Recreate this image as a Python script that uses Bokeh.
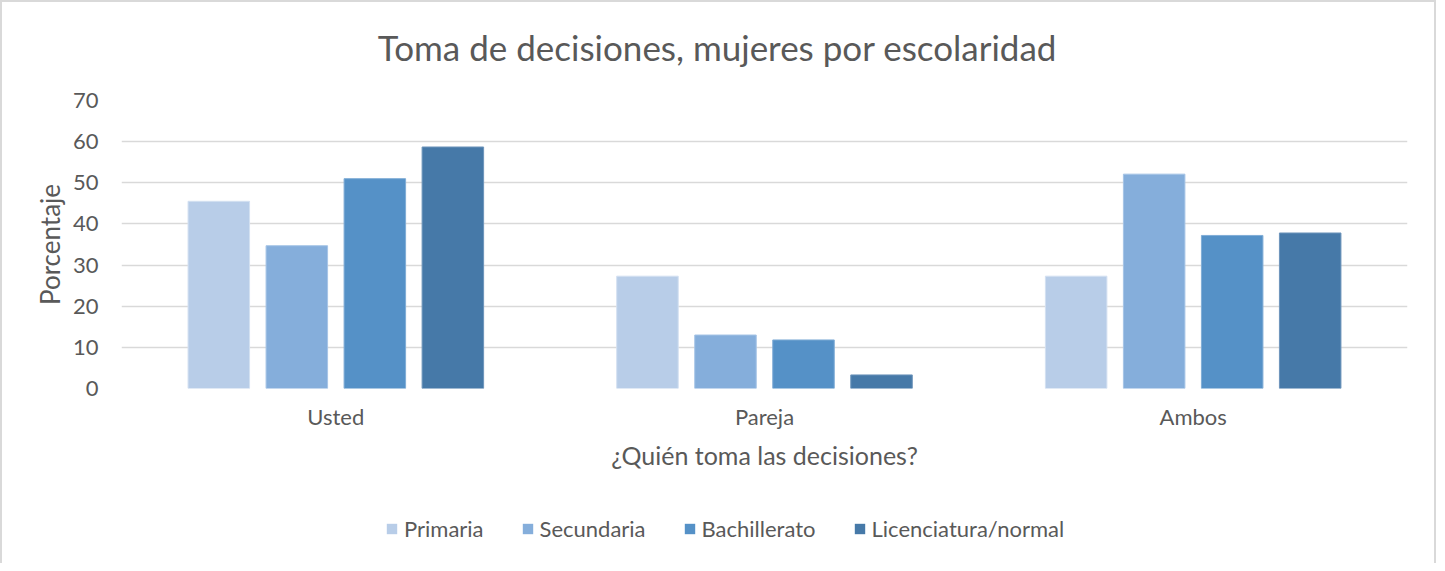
from bokeh.plotting import figure
from bokeh.models import (ColumnDataSource, FactorRange, Range1d, Legend, LegendItem, Label)
from bokeh.layouts import column
from bokeh.transform import dodge
from bokeh.embed import file_html
from bokeh.resources import INLINE

categories = ["Usted", "Pareja", "Ambos"]
series = ["Primaria", "Secundaria", "Bachillerato", "Licenciatura/normal"]
primaria = [45.5, 27.3, 27.3]
secundaria = [34.7, 13.0, 52.1]
bachillerato = [51.0, 11.8, 37.2]
licenciatura = [58.7, 3.3, 37.8]
colors = ["#B8CDE8", "#85AEDB", "#5591C7", "#4679A8"]
edge_colors = ["#D3E0F1", "#A6C4E6", "#80ADD6", "#6E95BB"]
y_ticks = [0, 10, 20, 30, 40, 50, 60, 70]
title_text = "Toma de decisiones, mujeres por escolaridad"

FONT = "Lato"
TXT = "#595959"

source = ColumnDataSource(data=dict(
    cat=categories, s0=primaria, s1=secundaria, s2=bachillerato, s3=licenciatura))
keys = ["s0", "s1", "s2", "s3"]
offsets = [-0.273, -0.091, 0.091, 0.273]

W = 1432


def strip(height):
    f = figure(x_range=FactorRange(*categories, range_padding=0), y_range=Range1d(-100, -90),
               width=W, height=height, output_backend="svg", toolbar_location=None,
               x_axis_location=None, y_axis_location=None,
               min_border_left=0, min_border_right=0, min_border_top=0, min_border_bottom=0)
    f.grid.visible = False
    f.outline_line_color = None
    f.background_fill_color = "white"
    f.border_fill_color = "white"
    return f


# title strip
tf = strip(70)
tf.add_layout(Label(x=596, y=26, x_units="screen", y_units="screen", text=title_text,
                    text_font=FONT, text_font_size="35px", text_color=TXT,
                    text_align="center", text_baseline="middle"))

# main chart
p = figure(x_range=FactorRange(*categories, range_padding=0), y_range=Range1d(0, 70),
           width=W, height=420, output_backend="svg", toolbar_location=None,
           min_border_left=119, min_border_right=27, min_border_top=28, min_border_bottom=104)

for i, key in enumerate(keys):
    p.vbar(x=dodge("cat", offsets[i], range=p.x_range), top=key, width=0.1435,
           source=source, fill_color=colors[i], line_color=edge_colors[i], line_width=1)

p.xgrid.grid_line_color = None
p.ygrid.grid_line_color = "#D9D9D9"
p.ygrid.grid_line_width = 1.5
p.yaxis.ticker = y_ticks
p.outline_line_color = None
p.background_fill_color = "white"
p.border_fill_color = "white"

for ax in (p.xaxis[0], p.yaxis[0]):
    ax.axis_line_color = None
    ax.major_tick_line_color = None
    ax.minor_tick_line_color = None
    ax.major_label_text_color = TXT
    ax.major_label_text_font = FONT
    ax.axis_label_text_color = TXT
    ax.axis_label_text_font = FONT
    ax.axis_label_text_font_style = "normal"

p.yaxis.major_label_text_font_size = "22px"
p.yaxis.major_label_standoff = 17
p.yaxis.axis_label = "Porcentaje"
p.yaxis.axis_label_text_font_size = "26px"
p.yaxis.axis_label_standoff = 4

p.xaxis.major_label_text_font_size = "22px"
p.xaxis.major_label_standoff = 8
p.xaxis.axis_label = "¿Quién toma las decisiones?"
p.xaxis.axis_label_text_font_size = "25px"
p.xaxis.axis_label_standoff = 7

# legend strip (same data source; its bars are hidden, only the legend shows)
lf = strip(71)
leg_renderers = []
for i, key in enumerate(keys):
    r = lf.vbar(x=dodge("cat", offsets[i], range=lf.x_range), top=key, width=0.1435,
                source=source, fill_color=colors[i], line_color=None, visible=False)
    leg_renderers.append(r)

legend = Legend(items=[LegendItem(label=s, renderers=[leg_renderers[i]]) for i, s in enumerate(series)],
                orientation="horizontal", location=(264, 21),
                label_text_font=FONT, label_text_font_size="22px", label_text_color=TXT,
                glyph_width=13, glyph_height=13, label_standoff=6, spacing=37,
                padding=0, margin=0, border_line_color=None, background_fill_alpha=0,
                inactive_fill_alpha=0)
lf.add_layout(legend, "center")

layout = column(tf, p, lf, spacing=0,
                styles={"border": "2px solid #D9D9D9", "border-bottom": "none"})

open("out.html", "w").write(file_html(layout, INLINE))
